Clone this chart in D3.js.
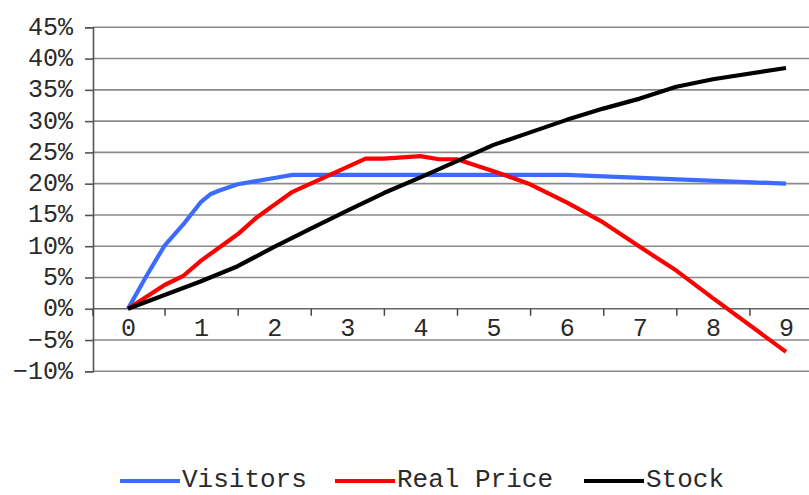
<!DOCTYPE html>
<html>
<head>
<meta charset="utf-8">
<script src="https://cdn.jsdelivr.net/npm/d3@7"></script>
<style>
  html, body { margin: 0; padding: 0; background: #fff; }
  svg { display: block; }
  text { font-family: "Liberation Mono", "Courier New", monospace; fill: #2a2a2a; }
</style>
</head>
<body>
<svg id="chart" width="809" height="495"></svg>
<script>
// Cumulative change (%) over time for three series
const visitorsYears = [0, 0.25, 0.5, 0.75, 1, 1.125, 1.25, 1.5, 1.75, 2, 2.25, 6, 9];
const visitorsPct   = [0, 5.2, 10.1, 13.4, 17.1, 18.3, 18.9, 19.9, 20.4, 20.9, 21.4, 21.4, 20.0];

const realYears = [0, 0.5, 0.75, 1, 1.5, 1.75, 2.25, 3.25, 3.5, 4, 4.25, 4.5, 5, 5.5, 6, 6.5, 7, 7.5, 8, 9];
const realPct   = [0, 3.8, 5.2, 7.7, 11.9, 14.5, 18.7, 24.0, 24.0, 24.4, 23.9, 23.9, 22.0, 19.9, 17.0, 13.8, 9.9, 6.1, 1.7, -6.9];

const stockYears = [0, 1, 1.5, 2, 2.5, 3, 3.5, 4, 4.5, 5, 5.5, 6, 6.5, 7, 7.5, 8, 9];
const stockPct   = [0, 4.4, 6.8, 9.9, 12.8, 15.7, 18.5, 21.0, 23.6, 26.2, 28.2, 30.2, 32.0, 33.6, 35.5, 36.7, 38.5];

const xLabels = [0, 1, 2, 3, 4, 5, 6, 7, 8, 9];
const yTicks = [-10, -5, 0, 5, 10, 15, 20, 25, 30, 35, 40, 45];

const seriesNames = ["Visitors", "Real Price", "Stock"];
const seriesColors = ["#3b6cff", "#ff0000", "#000000"];

const series = [
  { name: seriesNames[0], color: seriesColors[0], pts: visitorsYears.map((t, i) => [t, visitorsPct[i]]) },
  { name: seriesNames[1], color: seriesColors[1], pts: realYears.map((t, i) => [t, realPct[i]]) },
  { name: seriesNames[2], color: seriesColors[2], pts: stockYears.map((t, i) => [t, stockPct[i]]) }
];

const svg = d3.select("#chart");
const axisX = 93, rightX = 809;

const x = d3.scaleLinear().domain([0, 9]).range([128, 786]);
const y = d3.scaleLinear().domain([-10, 45]).range([371.3, 27.3]);

const pctFmt = d => (d < 0 ? "\u2212" + (-d) : d) + "%";

// horizontal gridlines
svg.append("g")
  .selectAll("line")
  .data(yTicks)
  .join("line")
  .attr("x1", axisX).attr("x2", rightX)
  .attr("y1", d => y(d)).attr("y2", d => y(d))
  .attr("stroke", d => d === 0 ? "#666" : "#8a8a8a")
  .attr("stroke-width", 1.6);

// y axis
const yAxis = svg.append("g")
  .attr("transform", `translate(${axisX},0)`)
  .call(d3.axisLeft(y).tickValues(yTicks).tickSize(8).tickPadding(12).tickFormat(pctFmt));
yAxis.select(".domain").attr("stroke", "#555").attr("stroke-width", 1.6);
yAxis.selectAll(".tick line").attr("stroke", "#555").attr("stroke-width", 1.6);
yAxis.selectAll("text").attr("font-size", 25).attr("dy", "0.28em")
  .attr("font-family", "Liberation Mono").attr("fill", "#2a2a2a");

// x tick marks between the year labels
const tickPos = d3.range(0, 9).map(k => k + 0.5);
const xTicks = svg.append("g")
  .attr("transform", `translate(0,${y(0)})`)
  .call(d3.axisBottom(x).tickValues(tickPos).tickSize(7).tickFormat(""));
xTicks.select(".domain").remove();
xTicks.selectAll(".tick line").attr("stroke", "#444").attr("stroke-width", 1.5);
svg.append("line")
  .attr("x1", axisX).attr("x2", axisX)
  .attr("y1", y(0)).attr("y2", y(0) + 7)
  .attr("stroke", "#444").attr("stroke-width", 1.5);

// x labels
const xLab = svg.append("g")
  .attr("transform", `translate(0,${y(0)})`)
  .call(d3.axisBottom(x).tickValues(xLabels).tickSize(0).tickPadding(9).tickFormat(d3.format("d")));
xLab.select(".domain").remove();
xLab.selectAll("text").attr("font-size", 25)
  .attr("font-family", "Liberation Mono").attr("fill", "#2a2a2a");

// series lines
const line = d3.line().x(d => x(d[0])).y(d => y(d[1]));
svg.append("g")
  .selectAll("path")
  .data(series)
  .join("path")
  .attr("d", d => line(d.pts))
  .attr("fill", "none")
  .attr("stroke", d => d.color)
  .attr("stroke-width", 4.2)
  .attr("stroke-linejoin", "round");

// legend
const legendX = [120, 335, 584];
const legend = svg.append("g");
series.forEach((s, i) => {
  const lx = legendX[i];
  legend.append("line")
    .attr("x1", lx).attr("x2", lx + 60)
    .attr("y1", 481).attr("y2", 481)
    .attr("stroke", s.color).attr("stroke-width", 4.2);
  legend.append("text")
    .attr("x", lx + 62).attr("y", 487)
    .attr("font-size", 26)
    .text(s.name);
});
</script>
</body>
</html>
